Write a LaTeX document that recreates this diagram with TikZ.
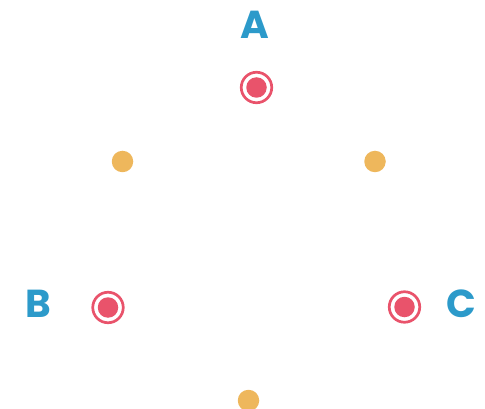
\documentclass[tikz,border=0pt]{standalone}
\usepackage{fontspec}
\setmainfont{Poppins}
\definecolor{lblblue}{HTML}{2C9ACA}
\definecolor{ptred}{HTML}{E9536B}
\definecolor{ptorange}{HTML}{EEB75C}
\begin{document}
\begin{tikzpicture}[x=1pt,y=-1pt,
  lbl/.style={text=lblblue,font=\fontsize{39}{39}\selectfont\bfseries,inner sep=0pt},
  ringpt/.style={circle,draw=ptred,line width=2.7pt,minimum size=30.5pt,inner sep=0pt},
  corept/.style={circle,fill=ptred,minimum size=20.5pt,inner sep=0pt},
  midpt/.style={circle,fill=ptorange,minimum size=21.5pt,inner sep=0pt}]
\useasboundingbox (0,0) rectangle (485,409);
\node[lbl] (la) at (255,25) {A};
\node[lbl] (lb) at (38,304) {B};
\node[lbl] (lc) at (461,304) {C};
\node[ringpt] (ra) at (256.5,87.5) {};
\node[corept] (a) at (ra) {};
\node[ringpt] (rb) at (108,307.5) {};
\node[corept] (b) at (rb) {};
\node[ringpt] (rc) at (404.5,307) {};
\node[corept] (c) at (rc) {};
\node[midpt] (mab) at (122.5,161.5) {};
\node[midpt] (mac) at (375,161.5) {};
\node[midpt] (mbc) at (248.5,400.5) {};
\end{tikzpicture}
\end{document}
